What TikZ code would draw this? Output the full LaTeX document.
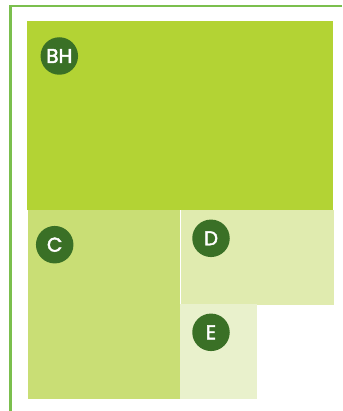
\documentclass[tikz,border=0pt]{standalone}
\usepackage{fontspec}
\setmainfont{Poppins}
\newfontfamily\badgefont[FakeBold=2.2]{Poppins}
\definecolor{frame}{HTML}{7BBF4E}
\definecolor{bh}{HTML}{B3D334}
\definecolor{cc}{HTML}{C9DE75}
\definecolor{dd}{HTML}{E0EBAF}
\definecolor{ee}{HTML}{E9F1CC}
\definecolor{dot}{HTML}{3A7026}
\begin{document}
\begin{tikzpicture}[x=1pt,y=-1pt,
  badge/.style={circle,fill=dot,text=white,minimum size=37.5pt,inner sep=0pt,font=\badgefont\fontsize{20}{20}\selectfont}]
\useasboundingbox (0,0) rectangle (342,411);
\fill[white] (0,0) rectangle (342,411);
\coordinate (fr1) at (342,5.8);
\coordinate (fr2) at (10.5,5.8);
\coordinate (fr3) at (10.5,411);
\draw[frame,line width=2.2pt] (fr1) -- (fr2) -- (fr3);
\fill[bh] (26.7,20.7) rectangle (332.7,209.7);
\fill[cc] (28,209.7) rectangle (180,399);
\fill[dd] (181,209.7) rectangle (334,304.7);
\fill[ee] (180,304.3) rectangle (257,399);
\node[badge] (nbh) at (59.3,56) {BH};
\node[badge] (nc) at (54.7,244.7) {C};
\node[badge] (nd) at (211,238.3) {D};
\node[badge] (ne) at (211,332.3) {E};
\end{tikzpicture}
\end{document}
